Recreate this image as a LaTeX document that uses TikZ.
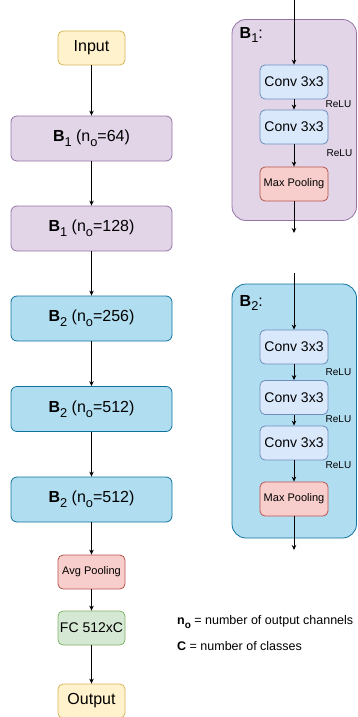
\documentclass[tikz,border=0pt]{standalone}
\usepackage{fontspec}
\setmainfont{Liberation Sans}
\usetikzlibrary{arrows.meta}

\definecolor{yelF}{HTML}{FFF2CC}\definecolor{yelD}{HTML}{D6B656}
\definecolor{purF}{HTML}{E1D5E7}\definecolor{purD}{HTML}{9673A6}
\definecolor{bluF}{HTML}{B1DDF0}\definecolor{bluD}{HTML}{10739E}
\definecolor{cnvF}{HTML}{DAE8FC}\definecolor{cnvD}{HTML}{6C8EBF}
\definecolor{redF}{HTML}{F8CECC}\definecolor{redD}{HTML}{B85450}
\definecolor{grnF}{HTML}{D5E8D4}\definecolor{grnD}{HTML}{82B366}

% lowered, smaller index as in "B_1" or "n_o"
\newcommand{\lowsub}[1]{\raisebox{-0.3em}{\scalebox{0.8}{#1}}}
\newcommand{\fsz}[1]{\fontsize{#1}{#1}\selectfont}

\tikzset{
  base/.style={draw, line width=0.8pt, inner sep=0pt, align=center},
  block/.style={base, rounded corners=6pt, minimum width=161pt, minimum height=45pt, font=\fsz{16}},
  small/.style={base, rounded corners=5pt, minimum width=67pt, minimum height=34pt},
  conv/.style={base, rounded corners=5pt, minimum width=68pt, minimum height=34pt,
               fill=cnvF, draw=cnvD, font=\fsz{14}},
  pool/.style={base, rounded corners=5pt, minimum width=68pt, minimum height=34pt,
               fill=redF, draw=redD, font=\fsz{11}},
  frame/.style={base, rounded corners=14pt, minimum width=124.5pt},
  relu/.style={anchor=west, inner sep=0pt, font=\fsz{10}},
  legend/.style={anchor=west, inner sep=0pt, font=\fsz{12.5}},
  arr/.style={-{Stealth[length=5pt,width=4.5pt]}, line width=0.8pt},
}

\begin{document}
\begin{tikzpicture}[x=1pt,y=-1pt]
\useasboundingbox (0,0) rectangle (357,717);

% ---- main network ----
\node[small, fill=yelF, draw=yelD, font=\fsz{16}] (in) at (91.5,48) {Input};
\node[block, fill=purF, draw=purD] (b1a) at (91.5,138.5) {\textbf{B}\lowsub{1} (n\lowsub{o}=64)};
\node[block, fill=purF, draw=purD] (b1b) at (91.5,228.5) {\textbf{B}\lowsub{1} (n\lowsub{o}=128)};
\node[block, fill=bluF, draw=bluD] (b2a) at (91.5,318.5) {\textbf{B}\lowsub{2} (n\lowsub{o}=256)};
\node[block, fill=bluF, draw=bluD] (b2b) at (91.5,409) {\textbf{B}\lowsub{2} (n\lowsub{o}=512)};
\node[block, fill=bluF, draw=bluD] (b2c) at (91.5,499.5) {\textbf{B}\lowsub{2} (n\lowsub{o}=512)};
\node[small, fill=redF, draw=redD, font=\fsz{11}] (avg) at (91.5,572) {Avg Pooling};
\node[small, fill=grnF, draw=grnD, font=\fsz{14}] (fc) at (91.5,628) {FC 512xC};
\node[small, fill=yelF, draw=yelD, font=\fsz{16}] (out) at (91.5,701) {Output};

\draw[arr] (in) -- (b1a);
\draw[arr] (b1a) -- (b1b);
\draw[arr] (b1b) -- (b2a);
\draw[arr] (b2a) -- (b2b);
\draw[arr] (b2b) -- (b2c);
\draw[arr] (b2c) -- (avg);
\draw[arr] (avg) -- (fc);
\draw[arr] (fc) -- (out);

% ---- block B1 ----
\node[frame, fill=purF, draw=purD, minimum height=201pt] (f1) at (294.25,120) {};
\node[anchor=west, inner sep=0pt, font=\fsz{16}] (l1) at (239.5,35) {\textbf{B}\lowsub{1}:};
\node[conv] (c11) at (294,82) {Conv 3x3};
\node[conv] (c12) at (294,127) {Conv 3x3};
\node[pool] (p1) at (294,184) {Max Pooling};
\node[relu] (r11) at (325.5,104) {ReLU};
\node[relu] (r12) at (326.5,153) {ReLU};
\coordinate (t1) at (294,0);
\coordinate (e1) at (294,233);
\draw[arr] (t1) -- (c11);
\draw[arr] (c11) -- (c12);
\draw[arr] (c12) -- (p1);
\draw[arr] (p1) -- (e1);

% ---- block B2 ----
\node[frame, fill=bluF, draw=bluD, minimum height=254pt] (f2) at (294.25,411) {};
\node[anchor=west, inner sep=0pt, font=\fsz{16}] (l2) at (239.5,303) {\textbf{B}\lowsub{2}:};
\node[conv] (c21) at (294,347) {Conv 3x3};
\node[conv] (c22) at (294,397.5) {Conv 3x3};
\node[conv] (c23) at (294,443) {Conv 3x3};
\node[pool] (p2) at (294,499) {Max Pooling};
\node[relu] (r21) at (325.5,372) {ReLU};
\node[relu] (r22) at (325.5,419) {ReLU};
\node[relu] (r23) at (325.5,465) {ReLU};
\coordinate (t2) at (294,273);
\coordinate (e2) at (294,550);
\draw[arr] (t2) -- (c21);
\draw[arr] (c21) -- (c22);
\draw[arr] (c22) -- (c23);
\draw[arr] (c23) -- (p2);
\draw[arr] (p2) -- (e2);

% ---- legend ----
\node[legend] (n1) at (177,622) {\textbf{n\lowsub{o}} = number of output channels};
\node[legend] (n2) at (177,646) {\textbf{C} = number of classes};
\end{tikzpicture}
\end{document}
